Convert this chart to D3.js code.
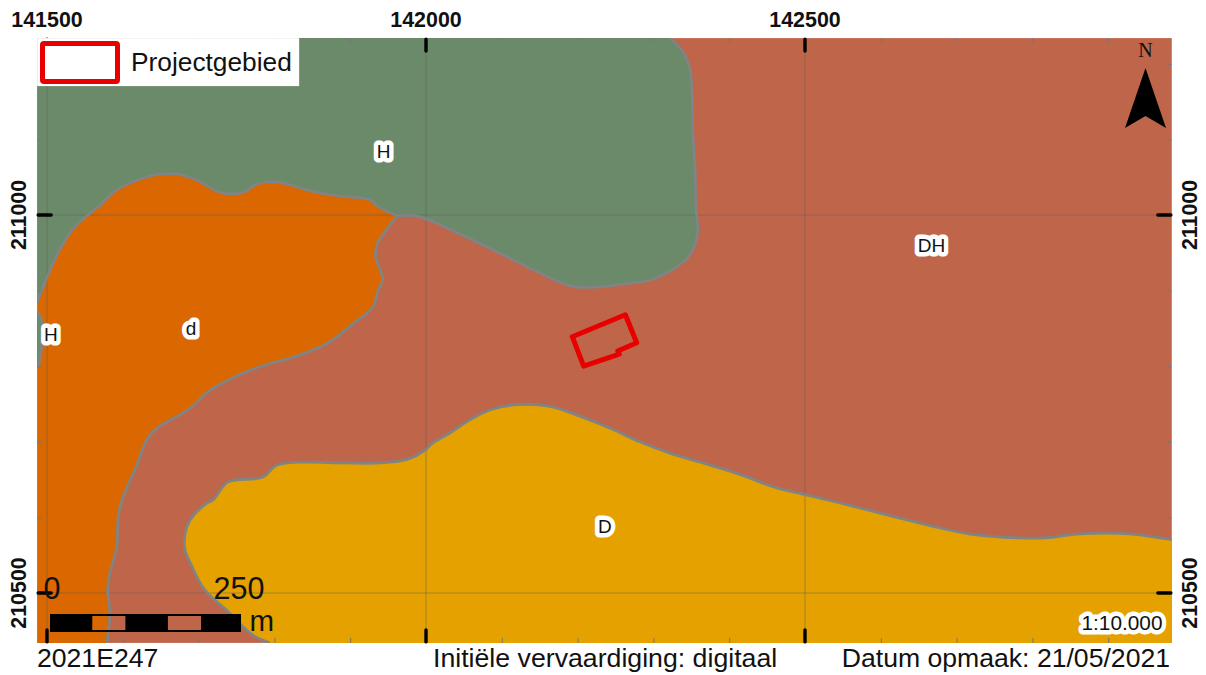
<!DOCTYPE html>
<html>
<head>
<meta charset="utf-8">
<script src="https://cdn.jsdelivr.net/npm/d3@7"></script>
<style>
html, body { margin: 0; background: #fff; }
text { font-family: "Liberation Sans", Arial, sans-serif; fill: #111; }
</style>
</head>
<body>
<div id="graph"></div>
<script>
// all positions are in RD metres
var xExtent = [141487, 142984]
var yExtent = [210434, 211234]
var xTickValues = [141500, 142000, 142500]
var yTickValues = [211000, 210500]
var xMinorTicks = [141500, 141600, 141700, 141800, 141900, 142000, 142100, 142200, 142300, 142400, 142500, 142600, 142700, 142800, 142900]
var yMinorTicks = [210500, 210600, 210700, 210800, 210900, 211000, 211100, 211200]

// boundary H / DH, from the top edge down to the point where the units meet
var greenEdge = [[142322,211234],[142339,211216],[142348,211194],[142351,211165],[142352,211112],[142355,211060],[142356,211013],[142358,210974],[142348,210947],[142329,210930],[142296,210914],[142263,210909],[142230,210905],[142197,210905],[142177,210911],[142137,210930],[142084,210956],[142038,210978],[142005,210993],[141985,210999],[141962,210999]]
// boundary H / d, from the same point to the left edge
var orangeTop = [[141962,210999],[141937,211011],[141926,211020],[141887,211025],[141847,211032],[141803,211044],[141777,211041],[141759,211030],[141728,211030],[141698,211046],[141672,211054],[141649,211054],[141627,211049],[141590,211032],[141570,211013],[141554,211000],[141537,210985],[141520,210960],[141504,210927],[141487,210884]]
// boundary d / DH, down to the bottom edge
var orangeBottom = [[141962,210999],[141946,210978],[141935,210960],[141934,210943],[141943,210915],[141937,210901],[141929,210877],[141906,210858],[141871,210831],[141834,210815],[141777,210798],[141748,210786],[141712,210766],[141691,210746],[141679,210738],[141645,210718],[141633,210705],[141616,210663],[141599,210623],[141594,210601],[141592,210561],[141583,210526],[141580,210504],[141583,210474],[141579,210434]]
// boundary D / DH, bottom edge round to the right edge
var yellowEdge = [[141794,210434],[141772,210444],[141737,210477],[141708,210504],[141689,210540],[141682,210557],[141682,210577],[141689,210597],[141711,210619],[141719,210623],[141739,210647],[141784,210653],[141803,210669],[141834,210673],[141893,210672],[141939,210672],[141976,210677],[141999,210689],[142008,210698],[142032,210712],[142058,210729],[142084,210742],[142117,210749],[142164,210747],[142203,210734],[142243,210718],[142282,210700],[142322,210685],[142362,210673],[142414,210657],[142460,210640],[142500,210630],[142559,210616],[142625,210599],[142678,210586],[142718,210578],[142781,210573],[142817,210573],[142859,210578],[142916,210579],[142942,210577],[142968,210573],[142984,210571]]
// small H sliver on the left edge
var greenSliver = [[141487,210872],[141493,210861],[141493,210828],[141488,210802],[141487,210802]]
var projectArea = [[142193,210839],[142263,210868],[142278,210831],[142253,210820],[142255,210816],[142208,210800]]

var unitLabels = ["H", "H", "d", "D", "DH"]
var unitLabelX = [141944, 141505, 141690, 142236, 142667]
var unitLabelY = [211084, 210842, 210850, 210588, 210960]

var scaleBarStops = [0, 54, 100, 153, 199, 250]
var scaleBarLabels = [0, 250]

var colors = { green: "#6b8a69", brown: "#bf654a", orange: "#da6700", yellow: "#e4a100", edge: "#808484", red: "#e80000", grid: "#5c5c5c" }

var width = 1206, height = 675
var x = d3.scaleLinear().domain([141500, 142500]).range([47, 805])
var y = d3.scaleLinear().domain([210500, 211000]).range([593, 215])
var left = x(xExtent[0]), right = x(xExtent[1]), top_ = y(yExtent[1]), bottom = y(yExtent[0])

var svg = d3.select("#graph").append("svg").attr("width", width).attr("height", height).style("display", "block")
var line = d3.line().x(function(d) { return x(d[0]) }).y(function(d) { return y(d[1]) })
var softLine = d3.line().x(function(d) { return x(d[0]) }).y(function(d) { return y(d[1]) }).curve(d3.curveCatmullRom.alpha(0.5))

svg.append("defs").append("clipPath").attr("id", "frame").append("rect")
	.attr("x", left).attr("y", top_).attr("width", right - left).attr("height", bottom - top_)

var map = svg.append("g").attr("clip-path", "url(#frame)")

// soil units, brown is the base
map.append("rect").attr("x", left).attr("y", top_).attr("width", right - left).attr("height", bottom - top_).attr("fill", colors.brown)

// fills: boundary curves joined up along the frame
function unit(parts, color) {
	var d = parts.map(function(p, i) {
		var s = p.length > 1 ? softLine(p) : line(p)
		return i == 0 ? s : "L" + s.slice(1)
	}).join("") + "Z"
	map.append("path").attr("d", d).attr("fill", color)
}
var tl = [xExtent[0], yExtent[1]], bl = [xExtent[0], yExtent[0]], br = [xExtent[1], yExtent[0]]
unit([[tl], greenEdge, orangeTop], colors.green)
unit([orangeTop.slice().reverse(), orangeBottom, [bl]], colors.orange)
unit([yellowEdge, [br]], colors.yellow)
unit([greenSliver], colors.green)

// grid
map.selectAll(".gridx").data(xTickValues).enter().append("line")
	.attr("x1", x).attr("x2", x).attr("y1", top_).attr("y2", bottom)
	.attr("stroke", colors.grid).attr("stroke-opacity", 0.45).attr("stroke-width", 1)
map.selectAll(".gridy").data(yTickValues).enter().append("line")
	.attr("x1", left).attr("x2", right).attr("y1", y).attr("y2", y)
	.attr("stroke", colors.grid).attr("stroke-opacity", 0.45).attr("stroke-width", 1)

// boundaries
var edges = [greenEdge, orangeTop, orangeBottom, yellowEdge, greenSliver]
map.selectAll(".edge").data(edges).enter().append("path")
	.attr("d", softLine).attr("fill", "none")
	.attr("stroke", colors.edge).attr("stroke-width", 2.8).attr("stroke-linejoin", "round")

// minor ticks on the inside of the frame, via axes
function minorAxis(axis, tx, ty) {
	var g = svg.append("g").attr("transform", "translate(" + tx + "," + ty + ")").call(axis)
	g.select(".domain").remove()
	g.selectAll("line").attr("stroke", "#777").attr("stroke-width", 1)
	g.selectAll("text").remove()
}
minorAxis(d3.axisBottom(x).tickValues(xMinorTicks).tickSize(5), 0, top_)
minorAxis(d3.axisTop(x).tickValues(xMinorTicks).tickSize(5), 0, bottom)
minorAxis(d3.axisRight(y).tickValues(yMinorTicks).tickSize(5), left, 0)
minorAxis(d3.axisLeft(y).tickValues(yMinorTicks).tickSize(5), right, 0)

// major ticks
var ticks = svg.append("g").attr("stroke", "#000").attr("stroke-width", 3.4).attr("stroke-linecap", "round")
xTickValues.forEach(function(v) {
	ticks.append("line").attr("x1", x(v)).attr("x2", x(v)).attr("y1", top_ + 1).attr("y2", top_ + 13)
	ticks.append("line").attr("x1", x(v)).attr("x2", x(v)).attr("y1", bottom - 13).attr("y2", bottom - 1)
})
yTickValues.forEach(function(v) {
	ticks.append("line").attr("x1", left + 1).attr("x2", left + 14).attr("y1", y(v)).attr("y2", y(v))
	ticks.append("line").attr("x1", right - 14).attr("x2", right - 1).attr("y1", y(v)).attr("y2", y(v))
})

// coordinate labels
svg.selectAll(".xlabel").data(xTickValues).enter().append("text")
	.attr("x", x).attr("y", 27).attr("text-anchor", "middle")
	.attr("font-size", 21.4).attr("font-weight", "bold").text(function(d) { return d })
;[26, 1197].forEach(function(px) {
	svg.selectAll(".ylabel" + px).data(yTickValues).enter().append("text")
		.attr("transform", function(d) { return "translate(" + px + "," + y(d) + ") rotate(-90)" })
		.attr("text-anchor", "middle").attr("font-size", 21.4).attr("font-weight", "bold").text(function(d) { return d })
})

// project area
svg.append("path").attr("d", line(projectArea) + "Z").attr("fill", "none")
	.attr("stroke", colors.red).attr("stroke-width", 5).attr("stroke-linejoin", "round")

// unit labels with halo
function halo(sel) {
	sel.attr("stroke", "#fff").attr("stroke-width", 9).attr("stroke-linejoin", "round").attr("paint-order", "stroke")
}
svg.selectAll(".unit").data(unitLabels).enter().append("text")
	.attr("x", function(d, i) { return x(unitLabelX[i]) })
	.attr("y", function(d, i) { return y(unitLabelY[i]) })
	.attr("text-anchor", "middle").attr("dy", "0.36em").attr("font-size", 19)
	.text(function(d) { return d }).call(halo)

svg.append("text").attr("x", 1122).attr("y", 630).attr("text-anchor", "middle").attr("font-size", 20.8)
	.text("1:10.000").call(halo)

// legend
svg.append("rect").attr("x", left).attr("y", top_).attr("width", 262).attr("height", 48).attr("fill", "#fff")
svg.append("rect").attr("x", 42.5).attr("y", 43.5).attr("width", 75).attr("height", 38).attr("rx", 1.5)
	.attr("fill", "#fff").attr("stroke", colors.red).attr("stroke-width", 5)
svg.append("text").attr("x", 131).attr("y", 71).attr("font-size", 26.3).text("Projectgebied")

// north arrow
var north = svg.append("g").attr("transform", "translate(1145.5,68)")
north.append("path").attr("d", "M0,0L20.5,60L0,48L-20.5,60Z").attr("fill", "#000")
north.append("text").attr("y", -11).attr("text-anchor", "middle").attr("font-size", 20)
	.style("font-family", "'Liberation Serif', serif").text("N")

// scale bar
var barScale = d3.scaleLinear().domain([0, 250]).range([50, 241])
var bar = svg.append("g")
d3.pairs(scaleBarStops).forEach(function(p, i) {
	var bx = barScale(p[0]), bw = barScale(p[1]) - bx
	if (i % 2 == 0) {
		bar.append("rect").attr("x", bx).attr("y", 614).attr("width", bw).attr("height", 18).attr("fill", "#000")
	} else {
		bar.append("rect").attr("x", bx).attr("y", 615).attr("width", bw).attr("height", 16)
			.attr("fill", "none").attr("stroke", "#000").attr("stroke-width", 2)
	}
})
bar.selectAll(".barlabel").data(scaleBarLabels).enter().append("text")
	.attr("x", function(d) { return d == 0 ? barScale(d) + 2 : barScale(d) - 2 })
	.attr("y", 599).attr("text-anchor", "middle").attr("font-size", 30.5).text(function(d) { return d })
bar.append("text").attr("x", 249.5).attr("y", 631).attr("font-size", 29.5).text("m")

// footer
svg.append("text").attr("x", 37).attr("y", 667).attr("font-size", 26.6).text("2021E247")
svg.append("text").attr("x", 433).attr("y", 667).attr("font-size", 26.7).text("Initiële vervaardiging: digitaal")
svg.append("text").attr("x", 1170).attr("y", 667).attr("text-anchor", "end").attr("font-size", 26.6).text("Datum opmaak: 21/05/2021")
</script>
</body>
</html>
